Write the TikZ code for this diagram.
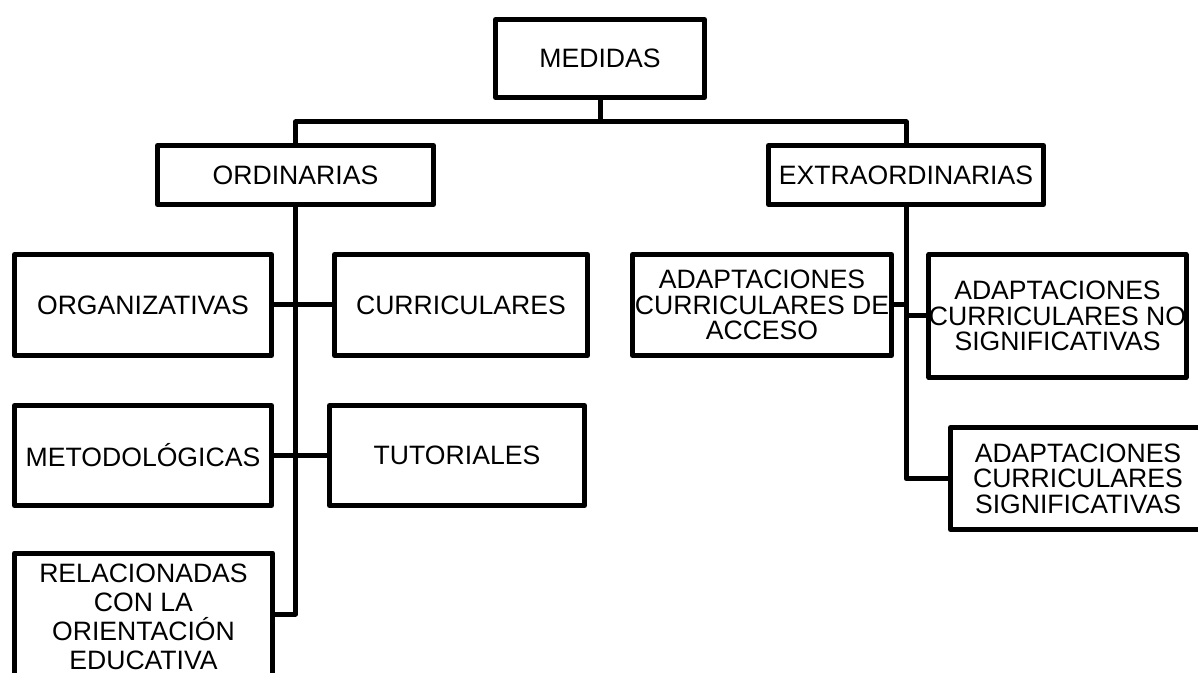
\documentclass[tikz,border=0pt]{standalone}
\usepackage{fontspec}
\setmainfont{Liberation Sans}
\usepackage{tikz}
\newcommand{\grosor}{2.5pt}
\newcommand{\letra}{\fontsize{13.3}{14.6}\selectfont}
\newcommand{\letrajunta}{\fontsize{13.3}{12.7}\selectfont}
\tikzset{
  caja/.style={draw, line width=\grosor, line join=round, inner sep=0pt, align=center, font=\letra},
  linea/.style={line width=\grosor, line join=round}
}

\begin{document}
\begin{tikzpicture}[x=0.5pt, y=-0.5pt]
\useasboundingbox (0,0) rectangle (1198,673);
%nivel 1
\node[caja, minimum width=104.5pt, minimum height=39pt] (medidas) at (600, 58.5) {MEDIDAS};
%nivel 2
\node[caja, minimum width=138pt, minimum height=29.5pt] (ordinarias) at (295.5, 175) {ORDINARIAS};
\node[caja, minimum width=137.5pt, minimum height=29.5pt] (extraordinarias) at (906, 175) {EXTRAORDINARIAS};
%ordinarias
\node[caja, minimum width=128.5pt, minimum height=50.5pt] (organizativas) at (143, 305) {ORGANIZATIVAS};
\node[caja, minimum width=126.5pt, minimum height=50.5pt] (curriculares) at (461, 305) {CURRICULARES};
\node[caja, minimum width=128.5pt, minimum height=50pt] (metodologicas) at (143, 455.5) {METODOLÓGICAS};
\node[caja, minimum width=127.5pt, minimum height=50pt] (tutoriales) at (457, 455.5) {TUTORIALES};
\node[caja, minimum width=129pt, minimum height=64pt] (relacionadas) at (143.5, 617) {RELACIONADAS\\CON LA\\ORIENTACIÓN\\EDUCATIVA};
%extraordinarias
\node[caja, font=\letrajunta, minimum width=129.5pt, minimum height=50.5pt] (acceso) at (762, 305) {ADAPTACIONES\\CURRICULARES DE\\ACCESO};
\node[caja, font=\letrajunta, minimum width=128pt, minimum height=61.5pt] (nosignificativas) at (1057.5, 316) {ADAPTACIONES\\CURRICULARES NO\\SIGNIFICATIVAS};
\node[caja, font=\letrajunta, minimum width=127.5pt, minimum height=51pt] (significativas) at (1078, 478.5) {ADAPTACIONES\\CURRICULARES\\SIGNIFICATIVAS};
%conectores
\coordinate (barra) at (600, 122);
\draw[linea] (medidas.south) -- (barra);
\draw[linea] (ordinarias.north) |- (barra) -| (extraordinarias.north);
\draw[linea] (ordinarias.south) |- ([yshift=1.5pt]relacionadas.east);
\draw[linea] (organizativas.east) -- (curriculares.west);
\draw[linea] (metodologicas.east) -- (tutoriales.west);
\draw[linea] (extraordinarias.south) |- (significativas.west);
\draw[linea] (acceso.east) -- (acceso.east -| extraordinarias.south);
\draw[linea] (nosignificativas.west) -- (nosignificativas.west -| extraordinarias.south);
\end{tikzpicture}
\end{document}
